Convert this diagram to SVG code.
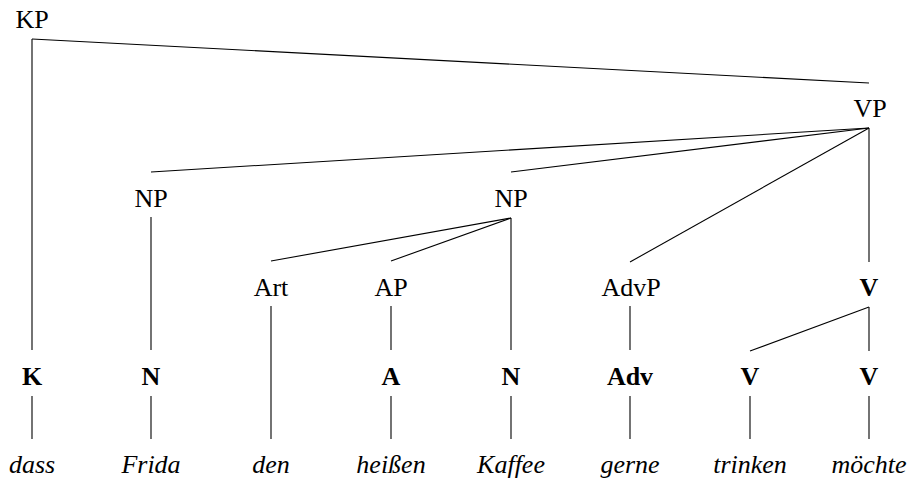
<svg xmlns="http://www.w3.org/2000/svg" width="920" height="488" viewBox="0 0 920 488">
<style>
text{font-family:'Liberation Serif','DejaVu Serif',serif;font-size:26px;fill:#000;text-anchor:middle}
.b{font-weight:bold}
.i{font-style:italic}
line{stroke:#000;stroke-width:1.1}
</style>
<rect width="920" height="488" fill="#fff"/>
<g id="connectors">
<line x1="32" y1="39" x2="32" y2="350"/>
<line x1="32" y1="39" x2="869" y2="83"/>
<line x1="869" y1="128" x2="151" y2="172"/>
<line x1="869" y1="128" x2="511" y2="172"/>
<line x1="869" y1="128" x2="630" y2="262"/>
<line x1="869" y1="128" x2="869" y2="262"/>
<line x1="151" y1="217" x2="151" y2="350"/>
<line x1="511" y1="218" x2="271" y2="261"/>
<line x1="511" y1="218" x2="391" y2="261"/>
<line x1="511" y1="218" x2="511" y2="350"/>
<line x1="271" y1="306" x2="271" y2="439"/>
<line x1="391" y1="306" x2="391" y2="350"/>
<line x1="630" y1="306" x2="630" y2="350"/>
<line x1="869" y1="307" x2="750" y2="351"/>
<line x1="869" y1="307" x2="869" y2="351"/>
<line x1="32" y1="396" x2="32" y2="439"/>
<line x1="151" y1="396" x2="151" y2="439"/>
<line x1="391" y1="396" x2="391" y2="439"/>
<line x1="511" y1="396" x2="511" y2="439"/>
<line x1="630" y1="396" x2="630" y2="439"/>
<line x1="750" y1="396" x2="750" y2="439"/>
<line x1="869" y1="396" x2="869" y2="439"/>
</g>
<g font-family="Liberation Serif, DejaVu Serif, serif">
<g id="KP"><text x="32" y="28">KP</text></g>
<g id="VP"><text x="870" y="117">VP</text></g>
<g id="NP1"><text x="151" y="207">NP</text></g>
<g id="NP2"><text x="511" y="207">NP</text></g>
<g id="Art"><text x="271" y="296">Art</text></g>
<g id="AP"><text x="391" y="296">AP</text></g>
<g id="AdvP"><text x="631" y="296">AdvP</text></g>
<g id="V1"><text class="b" x="869" y="296">V</text></g>
<g id="K"><text class="b" x="32" y="385">K</text></g>
<g id="N1"><text class="b" x="151" y="385">N</text></g>
<g id="A"><text class="b" x="391" y="385">A</text></g>
<g id="N2"><text class="b" x="511" y="385">N</text></g>
<g id="Adv"><text class="b" x="630" y="385">Adv</text></g>
<g id="V2"><text class="b" x="750" y="385">V</text></g>
<g id="V3"><text class="b" x="869" y="385">V</text></g>
<g id="w-dass"><text class="i" x="32" y="473">dass</text></g>
<g id="w-Frida"><text class="i" x="151" y="473">Frida</text></g>
<g id="w-den"><text class="i" x="271" y="473">den</text></g>
<g id="w-heissen"><text class="i" x="391" y="473">heißen</text></g>
<g id="w-Kaffee"><text class="i" x="511" y="473">Kaffee</text></g>
<g id="w-gerne"><text class="i" x="630" y="473">gerne</text></g>
<g id="w-trinken"><text class="i" x="750" y="473">trinken</text></g>
<g id="w-moechte"><text class="i" x="869" y="473">möchte</text></g>
</g>
</svg>
